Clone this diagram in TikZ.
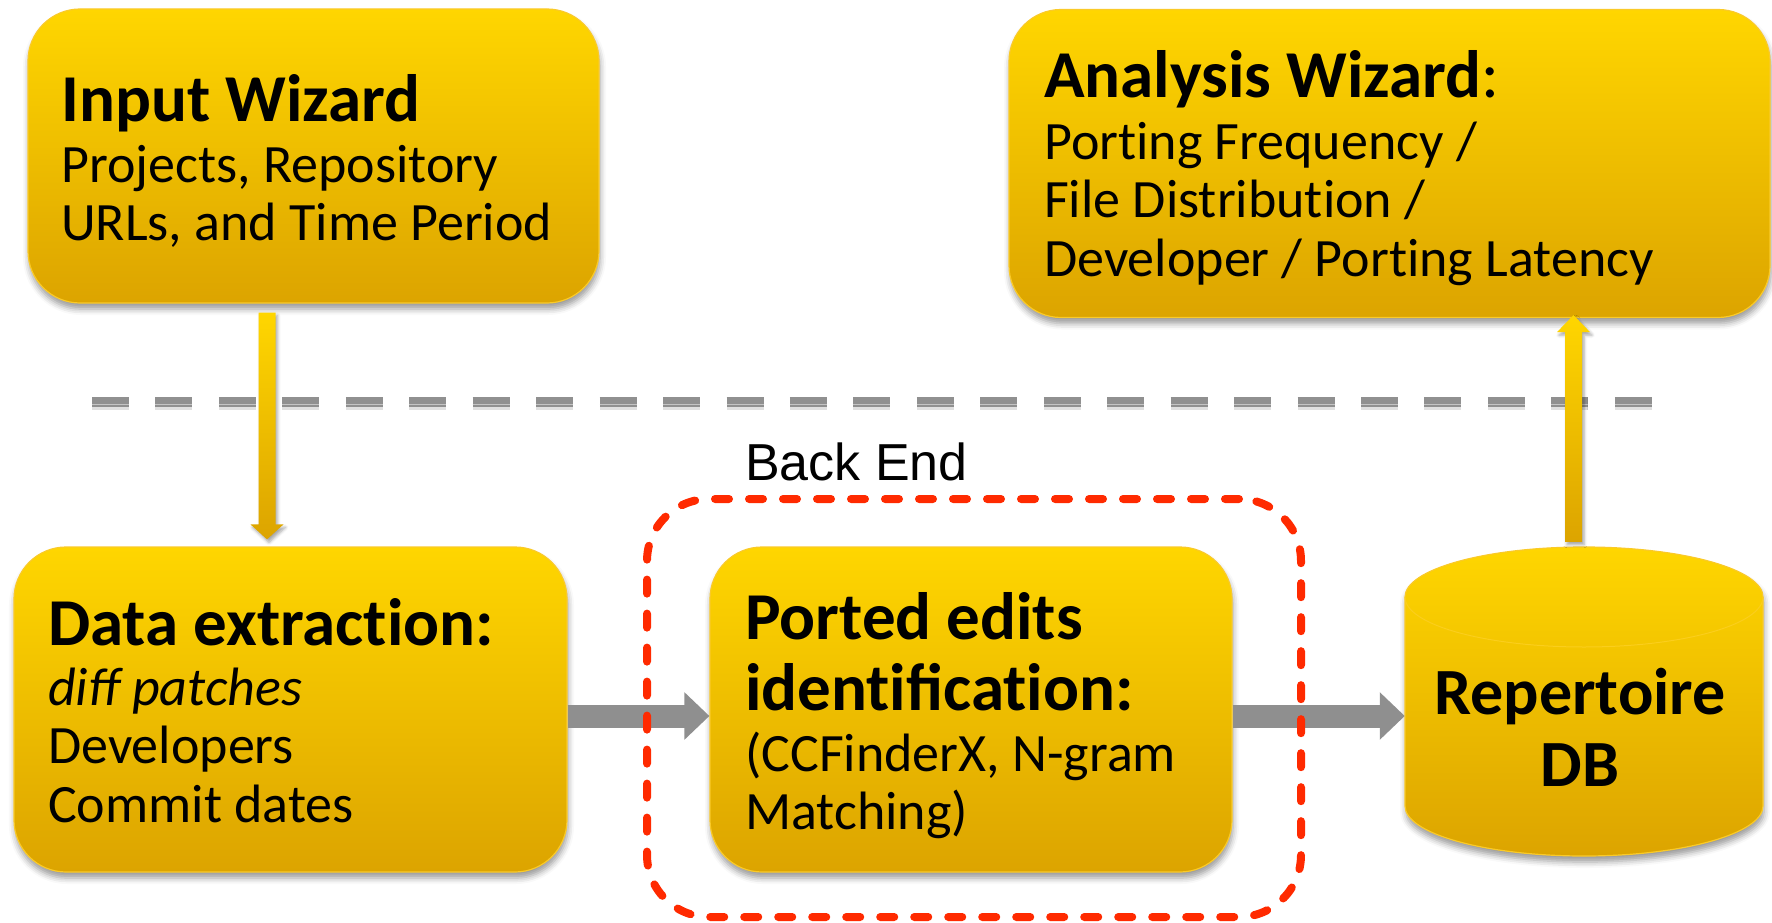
\documentclass[tikz,border=0pt]{standalone}
\usepackage{fontspec}
\setmainfont{Carlito}[Ligatures=NoCommon]
\newfontfamily\labelfont{Liberation Sans}
\usetikzlibrary{arrows.meta,shadows.blur,calc}

\definecolor{boxtop}{RGB}{255,214,0}
\definecolor{boxbot}{RGB}{220,164,0}
\definecolor{boxrim}{RGB}{250,202,40}
\definecolor{flowgray}{RGB}{143,143,143}
\definecolor{sepgray}{RGB}{144,144,144}
\definecolor{sepglint}{RGB}{196,196,196}
\definecolor{backred}{RGB}{255,42,0}

% bold heading line of a stage
\newcommand\stagetitle[1]{\hbox{\fontsize{67}{58.5}\selectfont\bfseries #1}}
% plain text line of a stage
\newcommand\stageline[1]{\hbox{#1}}
% stack of lines whose reference point is the first baseline
\newcommand\stagestack[1]{\vtop{\baselineskip=58.5pt\lineskiplimit=-100pt\lineskip=0pt #1}}

\begin{document}
\begin{tikzpicture}[x=1pt,y=-1pt,
  softshadow/.style={blur shadow={shadow xshift=1pt, shadow yshift=-6pt,
      shadow blur radius=6pt, shadow opacity=40}},
  linkshadow/.style={blur shadow={shadow xshift=2pt, shadow yshift=-3pt,
      shadow blur radius=3pt, shadow opacity=35}},
  stage/.style={rectangle, rounded corners=52pt, top color=boxtop,
      bottom color=boxbot, draw=boxrim, line width=1.2pt, softshadow},
  stagetext/.style={anchor=base west, inner sep=0pt,
      font=\fontsize{54}{58.5}\selectfont},
  yellowlink/.style={top color=boxtop, bottom color=boxbot, linkshadow},
  graylink/.style={draw=flowgray, line width=23pt,
      -{Triangle[width=46pt,length=25pt]}},
  separator/.style={draw=sepgray, line width=10pt,
      dash pattern=on 37pt off 26.45pt},
  groupframe/.style={rectangle, draw=backred, line width=8pt,
      dash pattern=on 14pt off 20pt, line cap=round, rounded corners=62pt}
]
\useasboundingbox (0,0) rectangle (1772,923);

% front end / back end separator
\coordinate (sepL) at (92,402);
\coordinate (sepR) at (1652,402);
\draw[separator, draw=black!12, line width=4pt] ([yshift=-6pt]sepL) -- ([yshift=-6pt]sepR);
\draw[separator] (sepL) -- (sepR);
\draw[draw=sepglint, line width=1pt, dash pattern=on 37pt off 26.45pt]
  ([yshift=-2.5pt]sepL) -- ([yshift=-2.5pt]sepR);

% stages
\node[stage, minimum width=571pt, minimum height=294pt] (input) at (313.5,156) {};
\node[stage, minimum width=761pt, minimum height=308pt] (analysis) at (1389.5,163.5) {};
\node[stage, minimum width=553pt, minimum height=325pt] (dataex) at (290.5,709.5) {};
\node[stage, minimum width=522pt, minimum height=325pt] (ported) at (971,709.5) {};

% repertoire database cylinder
\node[minimum width=358pt, minimum height=309pt, inner sep=0pt] (db) at (1584,701.5) {};
\path[top color=boxtop, bottom color=boxbot, draw=boxrim, line width=1.2pt, softshadow]
  (1405,597) -- (1405,806) arc[start angle=180, end angle=0, x radius=179, y radius=50]
  -- (1763,597) arc[start angle=0, end angle=-180, x radius=179, y radius=50] -- cycle;
\draw[draw=boxrim!70!boxtop, line width=1pt]
  (1405,597) arc[start angle=180, end angle=0, x radius=179, y radius=50];

% connectors
\coordinate (downx) at (267,0);
\coordinate (upx) at (1573.5,0);
\coordinate (flowy) at (0,716);
% input wizard -> data extraction (shaded block arrow)
\path[yellowlink]
  ($(input.south -| downx)+(-8.5,9)$) -- ($(input.south -| downx)+(8.5,9)$)
  -- ($(dataex.north -| downx)+(8.5,-22)$) -- ($(dataex.north -| downx)+(16.5,-22)$)
  -- ($(dataex.north -| downx)+(0,-7)$)
  -- ($(dataex.north -| downx)+(-16.5,-22)$) -- ($(dataex.north -| downx)+(-8.5,-22)$)
  -- cycle;
% repertoire db -> analysis wizard (shaded block arrow)
\path[yellowlink]
  ($(db.north -| upx)+(-8.5,-5)$) -- ($(db.north -| upx)+(8.5,-5)$)
  -- ($(analysis.south -| upx)+(8.5,14)$) -- ($(analysis.south -| upx)+(16.5,14)$)
  -- ($(analysis.south -| upx)+(0,-3)$)
  -- ($(analysis.south -| upx)+(-16.5,14)$) -- ($(analysis.south -| upx)+(-8.5,14)$)
  -- cycle;
\draw[graylink] (dataex.east |- flowy) -- (ported.west |- flowy);
\draw[graylink] (ported.east |- flowy) -- (db.west |- flowy);

% back end group
\node[groupframe, minimum width=654pt, minimum height=418pt] (backend) at (974,708) {};
\node[anchor=base west, inner sep=0pt, font=\labelfont\fontsize{52}{58}\selectfont]
  (backendlabel) at (745,480) {Back End};

% stage texts
\node[stagetext] (inputtext) at (61,122) {\stagestack{%
  \stagetitle{Input Wizard}\vskip2pt
  \stageline{Projects, Repository}
  \stageline{URLs, and Time Period}}};
\node[stagetext] (analysistext) at (1044,98) {\stagestack{%
  \stagetitle{Analysis Wizard{\mdseries:}}\vskip3pt
  \stageline{Porting Frequency /}
  \stageline{File Distribution /}
  \stageline{Developer / Porting Latency}}};
\node[stagetext] (dataextext) at (48,645) {\stagestack{%
  \stagetitle{Data extraction:}\vskip1.5pt
  \stageline{\itshape di{\addfontfeature{Ligatures=Common}ff} patches}
  \stageline{Developers}
  \stageline{Commit dates}}};
\node[stagetext] (portedtext) at (745,639) {\stagestack{%
  \stagetitle{Ported edits}\vskip12.5pt
  \stagetitle{identi{\addfontfeature{Ligatures=Common}fi}cation:}\vskip2.5pt
  \stageline{(CCFinderX, N-gram}
  \stageline{Matching)}}};
\node[anchor=base, inner sep=0pt, font=\fontsize{66}{72}\selectfont\bfseries]
  (dbtext) at (1580,714) {\vtop{\baselineskip=72pt
  \hbox to 0pt{\hss Repertoire\hss}
  \hbox to 0pt{\hss DB\hss}}};
\end{tikzpicture}
\end{document}
